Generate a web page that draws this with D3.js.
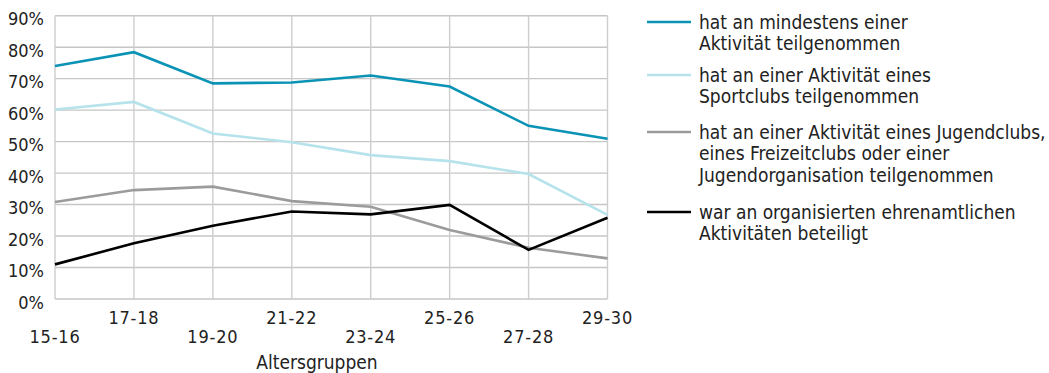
<!DOCTYPE html>
<html><head><meta charset="utf-8">
<script src="https://cdn.jsdelivr.net/npm/d3@7"></script>
<style>
html,body{margin:0;padding:0;background:#fff;}
svg text{font-family:"DejaVu Sans Condensed","DejaVu Sans",sans-serif;fill:#222;}
</style></head>
<body>
<svg id="chart" width="1049" height="373"></svg>
<script>
const categories = ["15-16","17-18","19-20","21-22","23-24","25-26","27-28","29-30"];
const yTicks = [0,10,20,30,40,50,60,70,80,90];
const seriesNames = [
  ["hat an mindestens einer","Aktivität teilgenommen"],
  ["hat an einer Aktivität eines","Sportclubs teilgenommen"],
  ["hat an einer Aktivität eines Jugendclubs,","eines Freizeitclubs oder einer","Jugendorganisation teilgenommen"],
  ["war an organisierten ehrenamtlichen","Aktivitäten beteiligt"]
];
const mindestens = [74, 78.4, 68.5, 68.8, 71.0, 67.5, 55.0, 50.9];
const sportclub  = [60.2, 62.6, 52.6, 49.8, 45.7, 43.8, 39.7, 26.7];
const jugendclub = [30.8, 34.6, 35.7, 31.1, 29.3, 21.9, 16.3, 12.9];
const ehrenamt   = [11.0, 17.7, 23.3, 27.8, 26.9, 29.9, 15.6, 25.8];
const axisTitle = "Altersgruppen";

const series = [mindestens, sportclub, jugendclub, ehrenamt];
const colors = ["#0b93b6","#b6e3eb","#9b9b9b","#000000"];

const svg = d3.select("#chart");
const pLeft = 55, pRight = 607.5, pTop = 15.7, pBottom = 299;
const x = d3.scalePoint().domain(categories).range([pLeft, pRight]);
const y = d3.scaleLinear().domain([0, 90]).range([pBottom, pTop]);

const grid = svg.append("g");
grid.selectAll("line.h").data(yTicks).join("line")
  .attr("x1", pLeft).attr("x2", pRight)
  .attr("y1", d => y(d)).attr("y2", d => y(d))
  .attr("stroke", "#c6c6c6").attr("stroke-width", 1.4);
grid.selectAll("line.v").data(categories).join("line")
  .attr("x1", d => x(d)).attr("x2", d => x(d))
  .attr("y1", pTop).attr("y2", pBottom)
  .attr("stroke", "#cdcdcd").attr("stroke-width", 1.4);

svg.append("g").selectAll("text").data(yTicks).join("text")
  .attr("x", 44).attr("y", d => y(d) + 9.5)
  .attr("text-anchor", "end").attr("font-size", 18)
  .text(d => d + "%");

svg.append("g").selectAll("text").data(categories).join("text")
  .attr("x", d => x(d))
  .attr("y", (d, i) => i % 2 === 1 ? 324 : 343)
  .attr("text-anchor", "middle").attr("font-size", 18)
  .attr("letter-spacing", 0.8)
  .text(d => d);

svg.append("text").attr("x", 317).attr("y", 369)
  .attr("text-anchor", "middle").attr("font-size", 19).text(axisTitle);

const line = d3.line().x((d, i) => x(categories[i])).y(d => y(d));
series.forEach((s, k) => {
  svg.append("path").datum(s).attr("d", line)
    .attr("fill", "none").attr("stroke", colors[k]).attr("stroke-width", 2.6);
});

const legendY = [22, 75, 132, 212];
const lg = svg.append("g");
seriesNames.forEach((lines, k) => {
  lg.append("line").attr("x1", 647).attr("x2", 691)
    .attr("y1", legendY[k]).attr("y2", legendY[k])
    .attr("stroke", colors[k]).attr("stroke-width", 2.6);
  lines.forEach((t, j) => {
    lg.append("text").attr("x", 699).attr("y", legendY[k] + 6.5 + j * 21.5)
      .attr("font-size", 19).text(t);
  });
});
</script>
</body></html>
